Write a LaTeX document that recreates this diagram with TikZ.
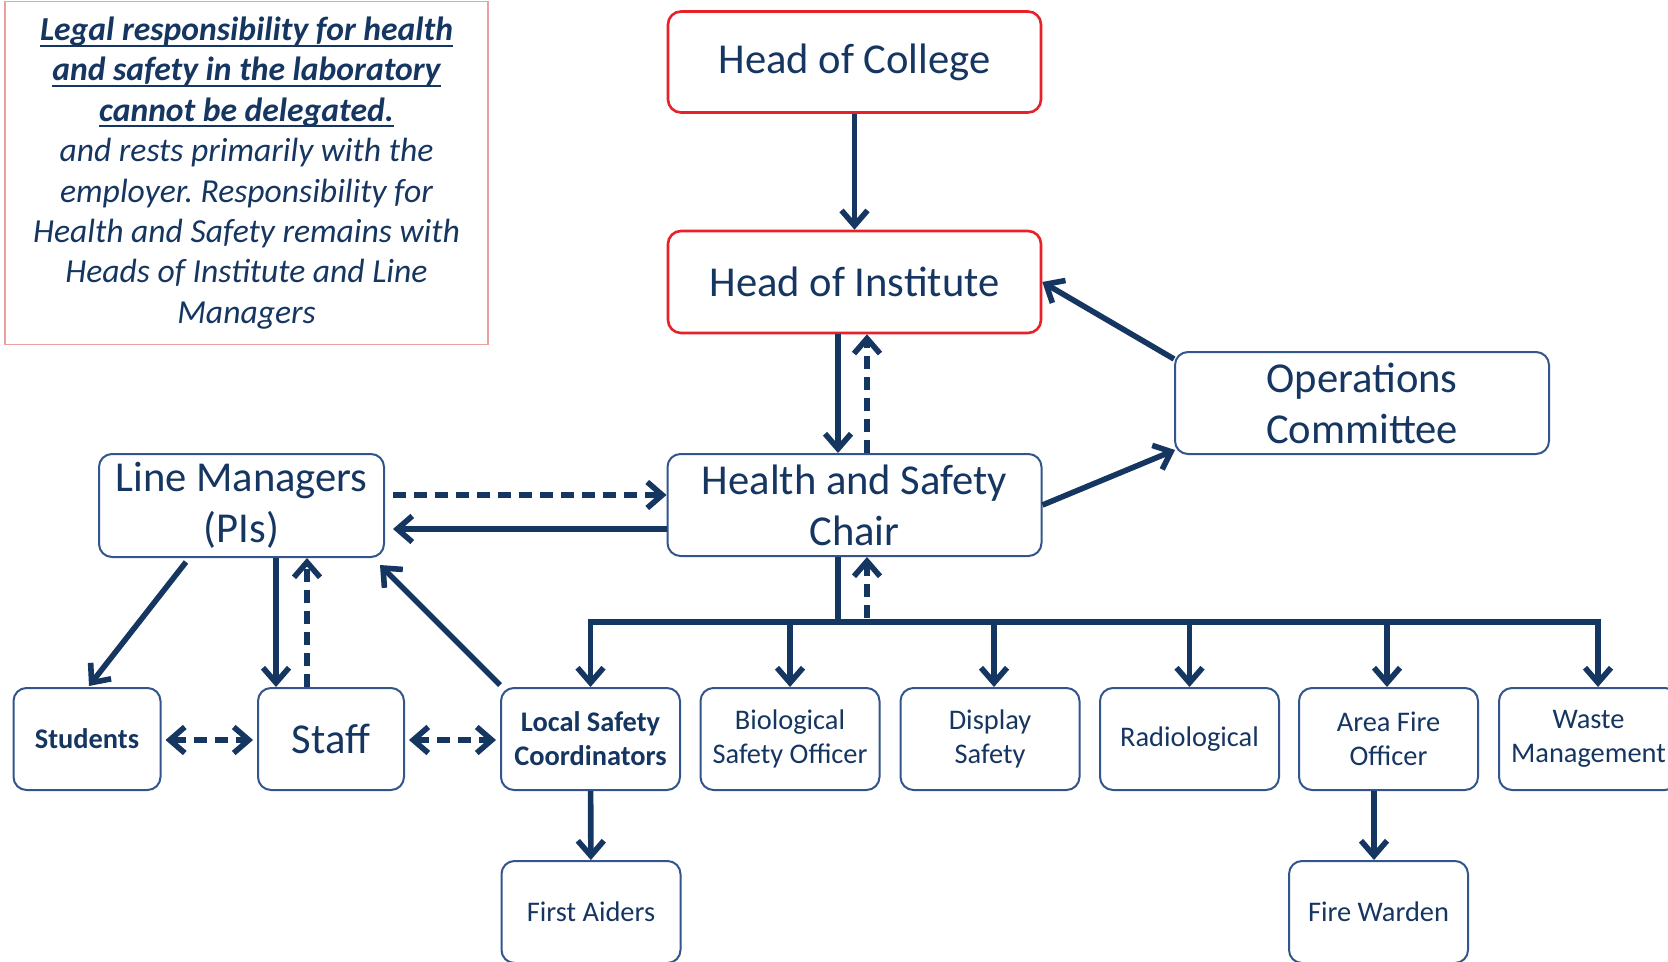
\documentclass[tikz,border=0pt]{standalone}
\usepackage{fontspec}
\setmainfont{Carlito}
\usetikzlibrary{arrows.meta,calc}
\definecolor{navy}{RGB}{22,54,98}
\definecolor{boxblue}{RGB}{50,86,140}
\definecolor{boxred}{RGB}{232,32,40}
\definecolor{notered}{RGB}{236,160,160}
\newsavebox\ulbox
\newcommand\ulline[1]{\sbox\ulbox{#1}\rlap{\rule[-3pt]{\wd\ulbox}{1pt}}\usebox\ulbox}
\frenchspacing
\begin{document}
\begin{tikzpicture}[x=0.5pt,y=-0.5pt,
  box/.style={draw=boxblue, line width=1pt, rounded corners=6.5pt, fill=white, text=navy, align=center, inner sep=0pt},
  redbox/.style={box, draw=boxred, line width=1.3pt},
  big/.style={font=\fontsize{21.3}{25.5}\selectfont, minimum height=51pt},
  small/.style={font=\fontsize{14.2}{17}\selectfont, minimum width=89.5pt, minimum height=51pt},
  conn/.style={draw=navy, line width=2.8pt},
  arr/.style={conn, -{Straight Barb[length=7.5pt,width=13pt]}},
  darr/.style={conn, {Straight Barb[length=7.5pt,width=13pt]}-{Straight Barb[length=7.5pt,width=13pt]}},
  dashline/.style={dash pattern=on 6.5pt off 4pt}
]
\clip (0,0) rectangle (1668,962);
\fill[white] (0,0) rectangle (1668,962);

% note
\node[draw=notered, line width=0.8pt, text=navy, align=center, inner sep=0pt,
      minimum width=241.5pt, minimum height=171.5pt,
      font=\fontsize{16.8}{20.2}\selectfont\itshape] (note) at (246.5,173)
 {\ulline{\textbf{Legal responsibility for health}}\\
  \ulline{\textbf{and safety in the laboratory}}\\
  \ulline{\textbf{cannot be delegated.}}\\
  and rests primarily with the\\
  employer. Responsibility for\\
  Health and Safety remains with\\
  Heads of Institute and Line\\
  Managers};

% main nodes
\node[redbox, big, minimum width=186.5pt, minimum height=50.5pt] (hoc) at (854.5,62) {Head of College};
\node[redbox, big, minimum width=186.5pt] (hoi) at (854.5,282) {Head of Institute};
\node[box, big, minimum width=187pt] (oc) at (1362,403) {Operations\\Committee};
\node[box, big, minimum width=187pt] (hsc) at (854.5,505) {Health and Safety\\Chair};
\node[box, big, minimum width=142.5pt, minimum height=51.5pt] (lm) at (241.5,505.5) {Line Managers\\(PIs)};

\node[box, small, minimum width=73.5pt, font=\fontsize{14.2}{17}\selectfont\bfseries] (stu) at (87,739) {Students};
\node[box, big, minimum width=73pt] (staff) at (331,739) {Staff};
\node[box, small, font=\fontsize{14.2}{17}\selectfont\bfseries] (lsc) at (590.5,739) {Local Safety\\Coordinators};
\node[box, small] (bso) at (790,739) {Biological\\Safety Officer};
\node[box, small] (ds) at (990,739) {Display\\Safety};
\node[box, small] (rad) at (1189.5,739) {Radiological};
\node[box, small] (afo) at (1388.5,739) {Area Fire\\Officer};
\node[box, small] (wm) at (1588.5,739) {Waste\\Management};
\node[box, small] (fa) at (591,912) {First Aiders};
\node[box, small] (fw) at (1378.5,912) {Fire Warden};

% helper coordinates
\coordinate (xA) at (838,0);
\coordinate (xB) at (867,0);
\coordinate (yD) at (0,495);
\coordinate (yS) at (0,529);
\coordinate (yB) at (0,740);
\coordinate (bus) at (0,622);
\coordinate (xLS) at (276,0);
\coordinate (xLD) at (307,0);
\coordinate (busR) at (1598,622);
\coordinate (xDS) at (994,0);
\coordinate (xAF) at (1387,0);
\coordinate (xFW) at (1374,0);

% connectors
\draw[arr] (hoc) -- (hoi);
\draw[arr] (hoi.south -| xA) -- (hsc.north -| xA);
\draw[arr, dashline] (hsc.north -| xB) -- (hoi.south -| xB);
\draw[arr] ($(oc.north west)+(0,8)$) -- (hoi.east);
\draw[arr] (hsc.east) -- ($(oc.south west)+(1,-5)$);
\draw[arr, dashline, shorten <=4pt] (lm.east |- yD) -- (hsc.west |- yD);
\draw[arr, shorten >=4pt] (hsc.west |- yS) -- (lm.east |- yS);
\draw[arr] ($(lm.south west)+(88,4)$) -- ($(stu.north)+(2,-1)$);
\draw[arr] (lm.south -| xLS) -- (staff.north -| xLS);
\draw[arr, dashline] (staff.north -| xLD) -- (lm.south -| xLD);
\draw[arr] ($(lsc.north west)+(0,-2)$) -- ($(lm.south east)+(-5,7)$);
\draw[darr, dashline, shorten <=2pt, shorten >=2pt] (stu.east |- yB) -- (staff.west |- yB);
\draw[darr, dashline, shorten <=2pt, shorten >=2pt] (staff.east |- yB) -- (lsc.west |- yB);

% bus
\draw[conn] (hsc.south -| xA) -- (bus -| xA);
\draw[arr, dashline] ($(bus -| xB)+(0,-4)$) -- (hsc.south -| xB);
\draw[darr] (lsc.north) |- (busR) -- (wm.north -| busR);
\draw[arr] (bso.north |- bus) -- (bso.north);
\draw[arr] (bus -| xDS) -- (ds.north -| xDS);
\draw[arr] (rad.north |- bus) -- (rad.north);
\draw[arr] (bus -| xAF) -- (afo.north -| xAF);
\draw[arr] (lsc) -- (fa);
\draw[arr] (afo.south -| xFW) -- (fw.north -| xFW);
\end{tikzpicture}
\end{document}
